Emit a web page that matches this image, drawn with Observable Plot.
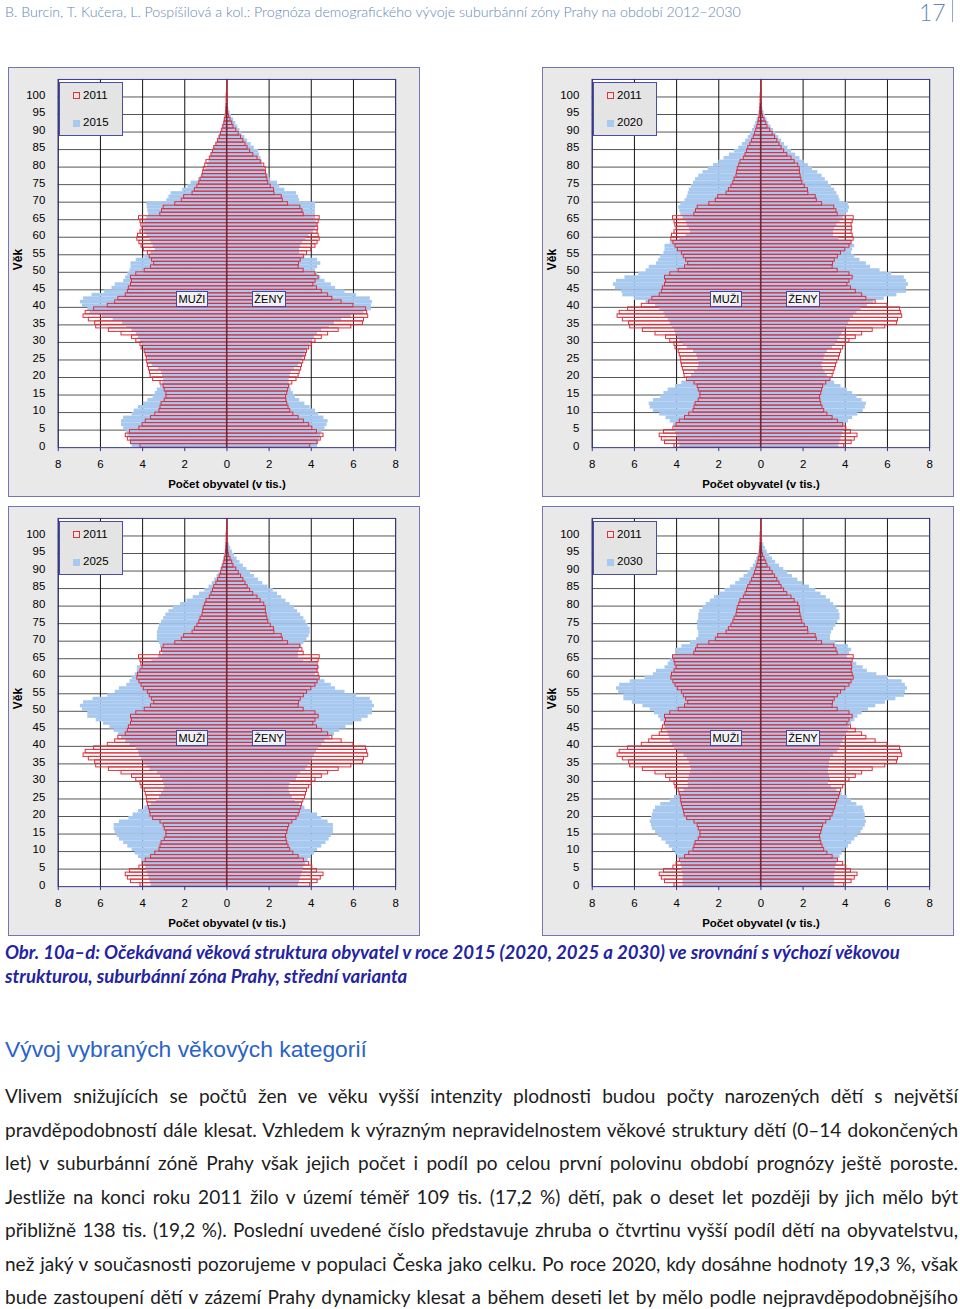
<!DOCTYPE html>
<html><head><meta charset="utf-8">
<script src="https://cdn.jsdelivr.net/npm/d3@7"></script>
<script src="https://cdn.jsdelivr.net/npm/@observablehq/plot@0.6"></script>
<style>
html,body{margin:0;padding:0;background:#fff}
body{width:960px;height:1309px;position:relative;overflow:hidden;font-family:Lato,"Open Sans",sans-serif}
.panel{position:absolute;width:412px;height:430px;background:#e9e9e9;border:1px solid #7474b8;box-sizing:border-box}
.panel svg{position:absolute;left:-1px;top:-1px}
.leg{position:absolute;left:50px;top:14px;width:64px;height:54px;background:#e4e4e4;border:1px solid #4b4ba8;box-sizing:border-box;font:11.5px "Liberation Sans",Arial,sans-serif;color:#000}
.leg .sw{position:absolute;left:13px;width:7px;height:7px;box-sizing:border-box}
.leg .s1{top:9px;border:1px solid #d8343c;background:#fbe3e8}
.leg .s2{top:37px;background:#a7c8ef}
.leg .t{position:absolute;left:23px;line-height:14px}
.lab{position:absolute;top:223px;height:16px;background:#f1f1f4;border:1px solid #4343aa;box-sizing:border-box;font:11px "Liberation Sans",Arial,sans-serif;line-height:14px;text-align:center;color:#000}
.line{position:absolute;left:5px;white-space:nowrap}
.pl{line-height:24px;color:#1c1c1c}
</style></head><body>
<div id="hdr" class="line" style="top:3px;font-size:14px;color:#5f88b6;font-weight:300">B. Burcin, T. Kučera, L. Pospíšilová a kol.: Prognóza demografického vývoje suburbánní zóny Prahy na období 2012–2030</div>
<div class="line" style="left:919px;top:-2px;font-size:23px;color:#5f88b6;font-weight:300">17</div>
<div style="position:absolute;left:952px;top:0;width:1px;height:22px;background:#8fa9c8"></div>

<div id="p0" class="panel" style="left:8px;top:67px"></div>
<div id="p1" class="panel" style="left:542px;top:67px"></div>
<div id="p2" class="panel" style="left:8px;top:506px"></div>
<div id="p3" class="panel" style="left:542px;top:506px"></div>

<div id="cap1" class="line" style="top:941px;line-height:22px;font-size:17px;font-weight:700;font-style:italic;color:#2424a2">Obr. 10a–d: Očekávaná věková struktura obyvatel v roce 2015 (2020, 2025 a 2030) ve srovnání s výchozí věkovou</div>
<div id="cap2" class="line" style="top:965px;line-height:22px;font-size:17px;font-weight:700;font-style:italic;color:#2424a2">strukturou, suburbánní zóna Prahy, střední varianta</div>
<div id="head" class="line" style="top:1036px;font-size:21px;color:#2a63c8;font-family:'Liberation Sans',Arial,sans-serif">Vývoj vybraných věkových kategorií</div>
<div id="para"></div>

<script>
// ---------- DATA (thousands of persons by single year of age 0..100) ----------
const m2011 = [4.1,4.55,4.7,4.8,4.6,4.15,4.0,3.85,3.6,3.4, 3.2,3.15,3.1,2.95,2.87,2.87,2.95,3.0,3.15,3.5, 3.62,3.65,3.7,3.75,3.78,3.8,3.85,3.9,4.05,4.1, 4.3,4.5,5.0,5.6,6.2,6.25,6.55,6.8,6.7,6.3, 5.65,5.3,5.15,4.8,4.7,4.65,4.55,4.5,4.55,4.3, 3.9,3.6,3.45,3.55,3.66,3.75,3.94,4.05,4.15,4.25, 4.22,4.1,4.0,4.06,4.1,4.17,3.16,3.08,3.0,2.45, 2.14,2.03,1.63,1.52,1.4,1.31,1.25,1.16,1.13,1.1, 1.03,0.97,0.81,0.73,0.66,0.6,0.5,0.42,0.34,0.28, 0.22,0.17,0.12,0.1,0.06,0.04,0.03,0.02,0.01,0.01, 0.01];
const f2011 = [3.95,4.3,4.45,4.58,4.27,4.05,3.9,3.65,3.4,3.15, 3.0,2.92,2.86,2.82,2.8,2.86,2.9,2.95,3.1,3.3, 3.4,3.45,3.52,3.56,3.62,3.7,3.75,3.8,3.9,4.03, 4.2,4.5,4.8,5.3,5.9,6.45,6.5,6.7,6.65,6.6, 6.0,5.44,5.0,4.8,4.5,4.27,4.1,4.2,4.35,4.2, 3.64,3.4,3.42,3.5,3.65,3.8,4.0,4.2,4.3,4.4, 4.35,4.3,4.33,4.3,4.35,4.4,3.64,3.58,3.48,2.9, 2.65,2.6,2.25,2.23,2.08,1.96,1.92,1.88,1.85,1.84, 1.77,1.6,1.45,1.25,1.1,0.98,0.88,0.78,0.67,0.56, 0.44,0.31,0.25,0.17,0.1,0.06,0.04,0.03,0.02,0.01, 0.01];
const m2015 = [4.5,4.55,4.6,4.7,4.75,4.9,5.0,5.0,4.9,4.5, 4.4,4.2,3.95,3.75,3.5,3.4,3.3,3.15,3.05,3.0, 3.05,3.1,3.25,3.55,3.7,3.75,3.8,3.9,3.95,4.0, 4.1,4.2,4.3,4.5,4.75,4.95,5.4,5.9,6.5,6.6, 6.85,6.95,6.8,6.4,5.8,5.45,5.3,4.9,4.8,4.7, 4.6,4.55,4.55,4.3,3.9,3.6,3.4,3.5,3.6,3.65, 3.8,3.9,3.95,4.0,3.9,3.8,3.72,3.75,3.78,3.8, 2.85,2.75,2.65,2.1,1.85,1.7,1.35,1.22,1.1,1.0, 0.94,0.85,0.8,0.75,0.7,0.62,0.52,0.45,0.4,0.34, 0.28,0.22,0.17,0.13,0.09,0.07,0.05,0.03,0.02,0.01, 0.01];
const f2015 = [4.3,4.35,4.4,4.45,4.5,4.65,4.75,4.8,4.6,4.35, 4.2,3.95,3.7,3.45,3.25,3.15,3.05,3.0,2.95,2.95, 3.0,3.05,3.2,3.4,3.5,3.6,3.7,3.75,3.85,3.95, 4.05,4.15,4.3,4.5,4.85,5.1,5.45,5.9,6.5,6.85, 6.85,6.9,6.8,6.15,5.6,5.15,4.95,4.65,4.45,4.3, 4.2,4.3,4.45,4.3,3.7,3.45,3.45,3.5,3.6,3.75, 3.9,4.1,4.2,4.3,4.25,4.2,4.2,4.2,4.2,4.2, 3.45,3.4,3.3,2.75,2.5,2.4,2.05,2.0,1.85,1.78, 1.7,1.68,1.62,1.55,1.5,1.3,1.15,0.98,0.85,0.72, 0.62,0.52,0.42,0.32,0.22,0.15,0.1,0.07,0.05,0.03, 0.02];
const m2020 = [3.85,3.9,3.95,4.0,4.05,4.1,4.15,4.3,4.5,4.8, 5.1,5.25,5.3,5.1,4.75,4.6,4.4,4.05,3.75,3.45, 3.3,3.15,3.0,2.95,2.95,3.0,3.05,3.2,3.5,3.7, 3.85,3.95,4.05,4.1,4.2,4.3,4.4,4.55,4.6,4.8, 5.0,5.45,6.0,6.55,6.6,6.9,7.0,6.85,6.45,5.8, 5.45,5.3,4.95,4.85,4.75,4.6,4.55,4.55,4.3,3.85, 3.55,3.35,3.4,3.5,3.55,3.7,3.8,3.85,3.9,3.8, 3.6,3.5,3.45,3.4,3.3,3.2,3.1,2.95,2.75,2.5, 2.25,2.0,1.75,1.5,1.25,1.05,0.88,0.72,0.6,0.5, 0.4,0.32,0.25,0.19,0.14,0.1,0.07,0.05,0.03,0.02, 0.01];
const f2020 = [3.7,3.75,3.8,3.85,3.9,3.95,4.0,4.15,4.35,4.6, 4.85,4.95,5.0,4.8,4.55,4.35,4.1,3.8,3.5,3.3, 3.15,3.05,2.95,2.9,2.95,3.0,3.05,3.15,3.4,3.55, 3.65,3.75,3.85,3.95,4.05,4.15,4.25,4.4,4.55,4.75, 5.05,5.35,5.85,6.45,6.9,6.9,7.0,6.9,6.8,6.2, 5.65,5.2,5.0,4.7,4.45,4.3,4.35,4.45,4.3,3.7, 3.45,3.45,3.5,3.6,3.75,3.9,4.05,4.15,4.2,4.15, 3.75,3.7,3.6,3.5,3.35,3.2,3.05,2.9,2.7,2.45, 2.25,2.05,1.85,1.65,1.45,1.28,1.12,0.98,0.85,0.72, 0.6,0.48,0.38,0.29,0.21,0.15,0.1,0.07,0.05,0.03, 0.02];
const m2025 = [3.6,3.65,3.7,3.75,3.8,3.85,3.95,4.05,4.2,4.35, 4.5,4.7,4.9,5.1,5.2,5.3,5.35,5.35,5.1,4.65, 4.45,4.2,3.9,3.6,3.35,3.2,3.1,3.0,2.95,3.0, 3.05,3.15,3.3,3.65,3.8,3.95,4.05,4.15,4.2,4.3, 4.6,4.8,5.0,5.15,5.35,5.55,5.85,6.2,6.6,6.6, 6.85,6.95,6.8,6.35,5.65,5.3,5.1,4.75,4.6,4.5, 4.35,4.25,4.25,3.95,3.55,3.25,3.05,3.1,3.15,3.2, 3.3,3.3,3.3,3.25,3.2,3.1,3.0,2.9,2.75,2.55, 2.2,1.9,1.6,1.3,1.05,0.85,0.7,0.58,0.47,0.38, 0.3,0.24,0.19,0.15,0.11,0.08,0.05,0.04,0.02,0.01, 0.01];
const f2025 = [3.4,3.45,3.5,3.55,3.6,3.65,3.75,3.85,4.0,4.15, 4.3,4.5,4.7,4.85,4.95,5.05,5.05,5.05,4.8,4.5, 4.3,4.0,3.7,3.45,3.25,3.1,3.0,2.95,2.95,3.0, 3.3,3.35,3.5,3.75,3.85,3.95,4.05,4.15,4.25,4.35, 4.5,4.65,4.9,5.1,5.35,5.65,6.0,6.4,6.7,6.9, 6.9,7.0,6.9,6.8,6.15,5.6,5.15,4.95,4.65,4.4, 4.2,4.3,4.4,4.25,3.65,3.4,3.4,3.45,3.55,3.65, 3.8,3.9,3.95,3.95,3.85,3.75,3.65,3.5,3.35,3.2, 3.0,2.8,2.6,2.4,2.2,1.95,1.7,1.5,1.3,1.12, 0.95,0.78,0.62,0.48,0.36,0.26,0.18,0.12,0.08,0.05, 0.03];
const m2030 = [3.7,3.7,3.7,3.7,3.75,3.75,3.8,3.85,3.95,4.05, 4.2,4.35,4.5,4.7,4.85,5.0,5.15,5.2,5.25,5.2, 5.15,5.1,5.0,4.75,4.3,4.1,3.9,3.65,3.45,3.45, 3.45,3.4,3.35,3.3,3.35,3.4,3.5,3.65,3.95,4.1, 4.2,4.3,4.35,4.4,4.45,4.55,4.6,4.75,4.85,5.05, 5.25,5.6,6.1,6.5,6.5,6.75,6.85,6.7,6.2,5.5, 5.1,4.95,4.55,4.4,4.3,4.15,4.05,4.05,3.75,3.35, 3.05,2.95,2.95,3.0,3.0,3.0,2.95,2.95,2.9,2.75, 2.6,2.4,2.2,1.95,1.7,1.45,1.2,1.0,0.8,0.62, 0.48,0.36,0.27,0.2,0.14,0.1,0.07,0.04,0.03,0.02, 0.01];
const f2030 = [3.5,3.5,3.5,3.5,3.55,3.55,3.6,3.65,3.75,3.85, 4.0,4.15,4.3,4.45,4.6,4.75,4.85,4.95,5.0,4.95, 4.95,4.9,4.85,4.55,4.3,4.1,3.85,3.6,3.35,3.2, 3.3,3.25,3.2,3.2,3.25,3.25,3.3,3.45,3.65,3.75, 3.8,3.9,3.95,4.05,4.15,4.2,4.3,4.45,4.6,4.8, 5.1,5.45,5.9,6.4,6.8,6.85,6.95,6.85,6.7,6.05, 5.5,5.05,4.85,4.55,4.3,4.1,4.2,4.3,4.15,3.55, 3.3,3.3,3.35,3.45,3.55,3.65,3.75,3.75,3.7,3.6, 3.45,3.3,3.1,2.85,2.6,2.3,2.0,1.75,1.5,1.28, 1.08,0.88,0.7,0.55,0.42,0.3,0.21,0.14,0.09,0.06, 0.04];

const years = ["2015", "2020", "2025", "2030"];
const xTicks = [-8, -6, -4, -2, 0, 2, 4, 6, 8];
const yTicks = [0, 5, 10, 15, 20, 25, 30, 35, 40, 45, 50, 55, 60, 65, 70, 75, 80, 85, 90, 95, 100];
const maxAge = 104; // category axis runs 0..104
const labels = {base: "2011", men: "MUŽI", women: "ŽENY", x: "Počet obyvatel (v tis.)", y: "Věk"};

const paraLines = [
  "Vlivem snižujících se počtů žen ve věku vyšší intenzity plodnosti budou počty narozených dětí s největší",
  "pravděpodobností dále klesat. Vzhledem k výrazným nepravidelnostem věkové struktury dětí (0–14 dokončených",
  "let) v suburbánní zóně Prahy však jejich počet i podíl po celou první polovinu období prognózy ještě poroste.",
  "Jestliže na konci roku 2011 žilo v území téměř 109 tis. (17,2 %) dětí, pak o deset let později by jich mělo být",
  "přibližně 138 tis. (19,2 %). Poslední uvedené číslo představuje zhruba o čtvrtinu vyšší podíl dětí na obyvatelstvu,",
  "než jaký v současnosti pozorujeme v populaci Česka jako celku. Po roce 2020, kdy dosáhne hodnoty 19,3 %, však",
  "bude zastoupení dětí v zázemí Prahy dynamicky klesat a během deseti let by mělo podle nejpravděpodobnějšího"
];

// ---------- DRAWING ----------
const BLUE = "#a7c8ef", RED = "#dc2f3b";
const toRows = (male, female) => male.flatMap((v, a) => [
  {age: a, x1: -v, x2: 0}, {age: a, x1: 0, x2: female[a]}
]);
const base = toRows(m2011, f2011);
const allAges = d3.range(0, maxAge + 1);
const emptyTop = allAges.filter(a => ((m2011[a] ?? 0) + (f2011[a] ?? 0)) < 0.05);

function pyramid(male, female) {
  const proj = toRows(male, female);
  return Plot.plot({
    width: 412, height: 430,
    marginLeft: 50, marginRight: 23, marginTop: 12, marginBottom: 48,
    style: {background: "transparent", fontFamily: "'Liberation Sans', Arial, sans-serif", fontSize: "11px", color: "#000"},
    x: {domain: [-8, 8]},
    y: {domain: [-0.5, maxAge + 0.5]},
    marks: [
      Plot.frame({fill: "#fff", stroke: null}),
      Plot.ruleY(yTicks.filter(t => t > 0), {y: t => t - 0.5, stroke: "#555", strokeWidth: 1}),
      Plot.ruleX(xTicks, {stroke: "#111", strokeWidth: 1}),
      Plot.rect(proj, {x1: "x1", x2: "x2", y1: d => d.age - 0.5, y2: d => d.age + 0.5, fill: BLUE}),
      Plot.rect(base, {x1: "x1", x2: "x2", y1: d => d.age - 0.5, y2: d => d.age + 0.5, fill: "none", stroke: RED, strokeWidth: 1}),
      Plot.ruleX([0], {stroke: "#3a1a22", strokeWidth: 1}),
      Plot.ruleX(emptyTop, {x: () => 0, y1: a => a - 0.5, y2: a => a + 0.5, stroke: RED, strokeWidth: 1.2}),
      Plot.frame({stroke: "#35358f", strokeWidth: 1}),
      Plot.axisX(xTicks, {tickFormat: d => Math.abs(d), tickSize: 4, tickPadding: 8, label: null, stroke: "#35358f", fontSize: 11.5}),
      Plot.axisY(yTicks, {tickSize: 0, tickPadding: 13, label: null, fontSize: 11.5}),
      Plot.text([labels.x], {frameAnchor: "bottom", dy: 41, fontWeight: "bold", fontSize: 11.5}),
      Plot.text([labels.y], {frameAnchor: "left", textAnchor: "middle", dx: -40, dy: -4, rotate: -90, fontWeight: "bold", fontSize: 12})
    ]
  });
}

const series = [[m2015, f2015], [m2020, f2020], [m2025, f2025], [m2030, f2030]];
series.forEach(([m, f], i) => {
  const host = document.getElementById("p" + i);
  host.appendChild(pyramid(m, f));
  const leg = document.createElement("div");
  leg.className = "leg";
  leg.innerHTML = `<span class="sw s1"></span><span class="t" style="top:5px">${labels.base}</span>` +
                  `<span class="sw s2"></span><span class="t" style="top:32px">${years[i]}</span>`;
  host.appendChild(leg);
  const l1 = document.createElement("div");
  l1.className = "lab"; l1.style.left = "167px"; l1.style.width = "32px"; l1.textContent = labels.men;
  const l2 = document.createElement("div");
  l2.className = "lab"; l2.style.left = "243px"; l2.style.width = "34px"; l2.textContent = labels.women;
  host.appendChild(l1); host.appendChild(l2);
});

// paragraph lines
const para = document.getElementById("para");
const lineCenters = [1096, 1130, 1163, 1197, 1230, 1264, 1297];
paraLines.forEach((t, i) => {
  const d = document.createElement("div");
  d.className = "line pl";
  d.style.top = (lineCenters[i] - 12) + "px";
  d.textContent = t;
  para.appendChild(d);
});

function fitSize(el, target) {
  el.style.fontSize = "";
  const w = el.getBoundingClientRect().width;
  const fs = parseFloat(getComputedStyle(el).fontSize);
  el.style.fontSize = (fs * target / w) + "px";
  return fs * target / w;
}
function justify(el, target) {
  el.style.wordSpacing = "0px";
  const w = el.getBoundingClientRect().width;
  const n = (el.textContent.match(/ /g) || []).length;
  el.style.wordSpacing = ((target - w) / n) + "px";
}
function layoutText() {
  fitSize(document.getElementById("hdr"), 736);
  const fs = fitSize(document.getElementById("cap1"), 895);
  document.getElementById("cap2").style.fontSize = fs + "px";
  fitSize(document.getElementById("head"), 362);
  const pls = [...document.querySelectorAll(".pl")];
  pls.forEach(el => { el.style.fontSize = "20px"; el.style.wordSpacing = "0px"; });
  const maxW = Math.max(...pls.map(el => el.getBoundingClientRect().width));
  const pfs = 20 * 940 / maxW;
  pls.forEach(el => { el.style.fontSize = pfs + "px"; justify(el, 953); });
}
layoutText();
if (document.fonts && document.fonts.ready) document.fonts.ready.then(layoutText);
</script>
</body></html>
